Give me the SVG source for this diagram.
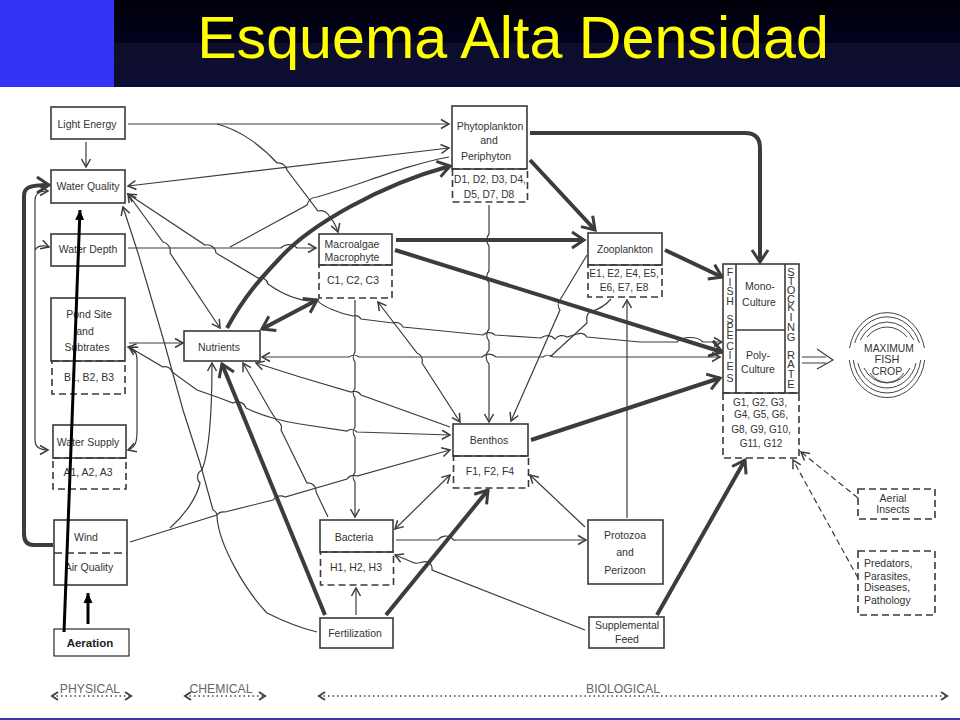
<svg xmlns="http://www.w3.org/2000/svg" width="960" height="720" viewBox="0 0 960 720">
<style>
text{font-family:"Liberation Sans",Arial,sans-serif;font-size:10.5px;fill:#333;text-anchor:middle}
.b{fill:#fff;stroke:#3a3a3a;stroke-width:1.6}
.d{fill:none;stroke:#3a3a3a;stroke-width:1.6;stroke-dasharray:7 4}
.t{fill:none;stroke:#3c3c3c;stroke-width:1.2}
.k{fill:none;stroke:#3c3c3c;stroke-width:4}
.a{marker-end:url(#ta)}
.s{marker-start:url(#ta)}
.ka{marker-end:url(#tk)}
.ks{marker-start:url(#tk)}
.dd{fill:none;stroke:#3c3c3c;stroke-width:1.2;stroke-dasharray:6 3.5;marker-end:url(#ta)}
.dot{fill:none;stroke:#444;stroke-width:1.6;stroke-dasharray:1.5 3;marker-start:url(#dh);marker-end:url(#dh)}
.r{fill:none;stroke:#444;stroke-width:1}
.l{font-size:12.2px;fill:#666}
.bk{fill:none;stroke:#000;stroke-width:3;marker-end:url(#bk)}
.n{font-size:10.2px}
.g{font-size:10px}
</style>
<defs>
<linearGradient id="hd" x1="0" y1="0" x2="0" y2="1"><stop offset="0" stop-color="#000008"/><stop offset=".49" stop-color="#02021e"/><stop offset=".5" stop-color="#0e0e2a"/><stop offset="1" stop-color="#0d0d36"/></linearGradient>
<marker id="ta" markerUnits="userSpaceOnUse" markerWidth="14" markerHeight="14" refX="11" refY="7" orient="auto-start-reverse"><path d="M3,2.5 L11,7 L3,11.5" fill="none" stroke="#3c3c3c" stroke-width="1.5"/></marker>
<marker id="tk" markerUnits="userSpaceOnUse" markerWidth="24" markerHeight="24" refX="19" refY="12" orient="auto-start-reverse"><path d="M7,4 L19,12 L7,20" fill="none" stroke="#3c3c3c" stroke-width="3"/></marker>
<marker id="dh" markerUnits="userSpaceOnUse" markerWidth="12" markerHeight="12" refX="8" refY="6" orient="auto-start-reverse"><path d="M2,2 L8,6 L2,10" fill="none" stroke="#444" stroke-width="2"/></marker>
<marker id="bk" markerUnits="userSpaceOnUse" markerWidth="12" markerHeight="12" refX="10" refY="6" orient="auto"><path d="M0,1.5 L10,6 L0,10.5 Z" fill="#000"/></marker>
</defs>
<rect width="960" height="720" fill="#fff"/>
<rect y="0" width="960" height="87" fill="url(#hd)"/>
<rect width="114" height="87" fill="#3333f5"/>
<text x="513" y="58" style="font-size:59.200px;fill:#ffff00">Esquema Alta Densidad</text>
<rect y="716" width="960" height="4" fill="#fdfbf4"/>
<rect y="718" width="960" height="2" fill="#3838a8"/>

<g id="connectors">
<path class="t a" d="M128,124H449"/>
<path class="t a" d="M86,142V167"/>
<path class="t a" d="M217,124C240,130 262,146 277,163A9,9 0 0 1 287,170L318,211A10,10 0 0 1 330,218C334,221 336,226 338,232"/>
<path class="t a s" d="M128,186L449,148"/>
<path class="t a" d="M128,248H281A11,11 0 0 1 297,248H316"/>
<path class="t" d="M230,247L307,205A11,11 0 0 1 317,197C360,185 405,165 449,157"/>
<path class="k ka" d="M227,328C245,295 262,277 280,258C310,225 380,185 450,166"/>
<path class="t a s" d="M128,194L163,242A9,9 0 0 1 170,253L220,328"/>
<path class="t a s" d="M128,194L205,245A9,9 0 0 1 216,253L258,278A8,8 0 0 1 268,284C285,296 302,302 318,301C322,306 338,313 353,316A7,7 0 0 1 361,319L393,323A8,8 0 0 1 403,327L483,335A9,9 0 0 1 495,335L541,338A10,10 0 0 1 555,339A9,9 0 0 1 567,337L577,334A8,8 0 0 1 587,337L640,342H677C682,336 698,336 703,342H722"/>
<path class="t s" d="M123,207L138,253L163,338L183,410L200,463L213,510A7,7 0 0 1 217,517C219,545 245,590 267,613C285,622 300,628 317,632"/>
<path class="t a" d="M130,542L217,515A8,8 0 0 1 225,512L273,500A9,9 0 0 1 285,497L347,479A8,8 0 0 1 357,476L450,450"/>
<path class="t a" d="M170,528C185,515 197,497 200,483A8,8 0 0 1 202,470C208,455 212,420 212,363"/>
<path class="k ka" d="M325,615L222,364"/>
<path class="k ka" d="M386,615L488,490"/>
<path class="k ka ks" d="M262,329L317,300"/>
<path class="t a" d="M129,343H183"/>
<path class="t a s" d="M128,347C134,348 137,352 137,360V432C137,444 134,448 128,450"/>
<path class="t a s" d="M48,450C40,450 35,447 35,440V200C35,195 37,191 48,191"/>
<path class="t a" d="M35,250C38,245 43,245 49,247"/>
<path class="k ka" d="M53,545H34C27,545 24,541 24,534V196C24,188 28,185 49,185"/>
<path class="t a s" d="M129,347L163,367A7,7 0 0 1 172,372L197,390L217,397L233,403A9,9 0 0 1 246,408C262,416 285,422 300,424L347,431A8,8 0 0 1 357,432L450,435"/>
<path class="t a s" d="M262,357H349A8,8 0 0 1 359,357H482A10,10 0 0 1 496,357H543A8,8 0 0 1 553,357H720"/>
<path class="t s" d="M256,363L300,377L351,392A8,8 0 0 1 361,395L450,427"/>
<path class="t s" d="M243,363L270,410L277,421A7,7 0 0 1 281,430L307,483A8,8 0 0 1 316,492L328,517"/>
<path class="t a" d="M355,300V352A8,8 0 0 0 355,362V388A8,8 0 0 0 355,398V427A8,8 0 0 0 355,437V472A8,8 0 0 0 355,482V517"/>
<path class="t a s" d="M378,302L417,353A8,8 0 0 1 422,363L460,422"/>
<path class="t a" d="M489,205V234A9,9 0 0 0 489,246V271A9,9 0 0 0 489,283V329A9,9 0 0 0 489,341V350A10,10 0 0 0 489,364V422"/>
<path class="t a" d="M587,255L560,300A8,8 0 0 0 560,310L511,421"/>
<path class="t a" d="M627,518V300"/>
<path class="t" d="M550,357L587,323C586,316 588,313 590,312C597,310 605,306 611,299"/>
<path class="k ka" d="M396,240H584"/>
<path class="k ka" d="M395,250L722,352"/>
<path class="k ka" d="M530,160L595,230"/>
<path class="k ka" d="M530,133H745C755,133 760,138 760,148V262"/>
<path class="k ka" d="M665,250L722,277"/>
<path class="k ka" d="M531,440L720,378"/>
<path class="k ka" d="M657,615L745,460"/>
<path class="t a s" d="M450,475L395,529"/>
<path class="t a" d="M396,540H438A10,10 0 0 1 452,538C453,541 454,540 456,540H586"/>
<path class="t a" d="M585,630L432,570A8,8 0 0 0 428,562C422,560 418,566 412,562L395,555"/>
<path class="t a" d="M585,527L530,475"/>
<path class="t a" d="M356,615V588"/>
<path class="dd" d="M858,498L801,452"/>
<path class="dd" d="M858,578L793,460"/>
<path class="t" d="M802,357H826M802,363H826"/>
<path class="t" d="M817,349L833,360L817,369"/>
<path class="dot" d="M52,696H131"/>
<path class="dot" d="M185,696H265"/>
<path class="dot" d="M319,696H947"/>
</g>

<g id="light-energy"><rect class="b" x="51" y="107" width="74" height="32"/><text x="87" y="128">Light  Energy</text></g>
<g id="water-quality"><rect class="b" x="51" y="170" width="74" height="33"/><text x="88" y="190">Water  Quality</text></g>
<g id="water-depth"><rect class="b" x="51" y="234" width="74" height="32"/><text x="88" y="253">Water  Depth</text></g>
<g id="pond-site"><rect class="b" x="51" y="298" width="74" height="63"/><rect class="d" x="52" y="361" width="73" height="33"/><text x="89" y="318">Pond Site</text><text x="85" y="335">and</text><text x="87" y="351">Subtrates</text><text x="89" y="381">B1, B2, B3</text></g>
<g id="water-supply"><rect class="b" x="53" y="425" width="73" height="33"/><rect class="d" x="53" y="458" width="73" height="31"/><text x="88" y="446">Water  Supply</text><text x="88" y="476">A1, A2, A3</text></g>
<g id="wind"><rect class="b" x="54" y="520" width="73" height="65"/><path class="d" d="M54,553H127" style="stroke-dasharray:8 4"/><text x="86" y="541">Wind</text><text x="89" y="571">Air  Quality</text></g>
<g id="nutrients"><rect class="b" x="184" y="331" width="76" height="30"/><text x="219" y="351">Nutrients</text></g>
<g id="macroalgae"><rect class="b" x="319" y="234" width="73" height="31"/><rect class="d" x="319" y="265" width="73" height="33"/><text x="352" y="248">Macroalgae</text><text x="352" y="261">Macrophyte</text><text x="353" y="284">C1, C2, C3</text></g>
<g id="phytoplankton"><rect class="b" x="452" y="106" width="75" height="63"/><rect class="d" x="452.500" y="169" width="75" height="33"/><text x="490" y="130">Phytoplankton</text><text x="489" y="144">and</text><text x="486" y="160">Periphyton</text><text class="n" x="490" y="183">D1, D2, D3, D4,</text><text class="n" x="489" y="198">D5, D7, D8</text></g>
<g id="zooplankton"><rect class="b" x="588" y="233" width="74" height="32"/><rect class="d" x="588" y="265" width="74" height="32"/><text class="n" x="625" y="253">Zooplankton</text><text class="n" x="624" y="277">E1, E2, E4, E5,</text><text class="n" x="624" y="291">E6, E7, E8</text></g>
<g id="benthos"><rect class="b" x="453" y="424" width="75" height="32"/><rect class="d" x="453.500" y="456" width="75" height="32"/><text x="489" y="444">Benthos</text><text x="490" y="475">F1, F2, F4</text></g>
<g id="bacteria"><rect class="b" x="320" y="520" width="73" height="32"/><rect class="d" x="320.500" y="552" width="73" height="33"/><text x="354" y="541">Bacteria</text><text x="356" y="571">H1, H2, H3</text></g>
<g id="fertilization"><rect class="b" x="320" y="618" width="73" height="30"/><text x="355" y="637">Fertilization</text></g>
<g id="protozoa"><rect class="b" x="588" y="520" width="75" height="64"/><text x="625" y="539">Protozoa</text><text x="625" y="556">and</text><text x="625" y="574">Perizoon</text></g>
<g id="supplemental-feed"><rect class="b" x="589" y="617" width="75" height="31"/><text x="627" y="629">Supplemental</text><text x="627" y="643">Feed</text></g>
<g id="fish">
<rect class="b" x="723" y="264" width="76" height="129"/><path class="t" style="stroke-width:1.6" d="M736,264V393M785,264V393M736,330H785"/><rect class="d" x="723" y="393" width="76" height="65"/>
<text x="760" y="290">Mono-</text><text x="759" y="306">Culture</text><text x="758" y="359">Poly-</text><text x="758" y="373">Culture</text>
<text x="730 730 730 730 730 730 730 730 730 730 730 730" y="276 286 295 305 316 323 331 339 350 359 370 382">FISH SPECIES</text>
<text x="791 791 791 791 791 791 791 791 791 791 791 791 791" y="276 285 294 303 311 321 331 341 351 359 368 378 388" style="font-size:11px">STOCKING RATE</text>
<text class="g" x="760" y="406">G1, G2, G3,</text><text class="g" x="761" y="418">G4,  G5, G6,</text><text class="g" x="761" y="433">G8, G9, G10,</text><text class="g" x="761" y="447">G11,  G12</text>
</g>
<g id="aerial-insects"><rect class="d" x="858" y="489" width="77" height="30"/><text x="893" y="502">Aerial</text><text x="893" y="513">Insects</text></g>
<g id="predators"><rect class="d" x="858" y="551" width="77" height="64"/><text x="864" y="567" style="text-anchor:start">Predators,</text><text x="864" y="580" style="text-anchor:start">Parasites,</text><text x="864" y="591" style="text-anchor:start">Diseases,</text><text x="864" y="604" style="text-anchor:start">Pathology</text></g>
<g id="maximum-fish-crop">
<path class="r" d="M849.600,348A38,43 0 0 1 924.400,348M854.700,343A34,38 0 0 1 919.300,343M860.300,340A30,33 0 0 1 913.700,340M867.100,337A26,28 0 0 1 906.900,337"/>
<path class="r" d="M849.300,360A38,43 0 0 0 924.700,360M853.300,360A34,38 0 0 0 920.700,360M857.900,363A30,33 0 0 0 916.100,363M864,368A26,28 0 0 0 910,368M870,373A21,23 0 0 0 904,373"/>
<text x="889" y="352" style="font-size:10.300px">MAXIMUM</text><text x="887" y="363" style="font-size:11px">FISH</text><text x="887" y="375" style="font-size:10.500px">CROP</text>
</g>
<g id="scale-labels"><text class="l" x="90" y="693">PHYSICAL</text><text class="l" x="221" y="693">CHEMICAL</text><text class="l" x="623" y="693">BIOLOGICAL</text></g>
<g id="aeration"><rect x="54" y="629" width="75" height="27" fill="#fff" stroke="#000" stroke-width="1"/><text x="90" y="647" style="font-size:11.500px;font-weight:bold;fill:#222">Aeration</text></g>
<g id="aeration-connectors"><path class="bk" d="M64,632L80,210"/><path class="bk" d="M88,624V593"/></g>
</svg>
